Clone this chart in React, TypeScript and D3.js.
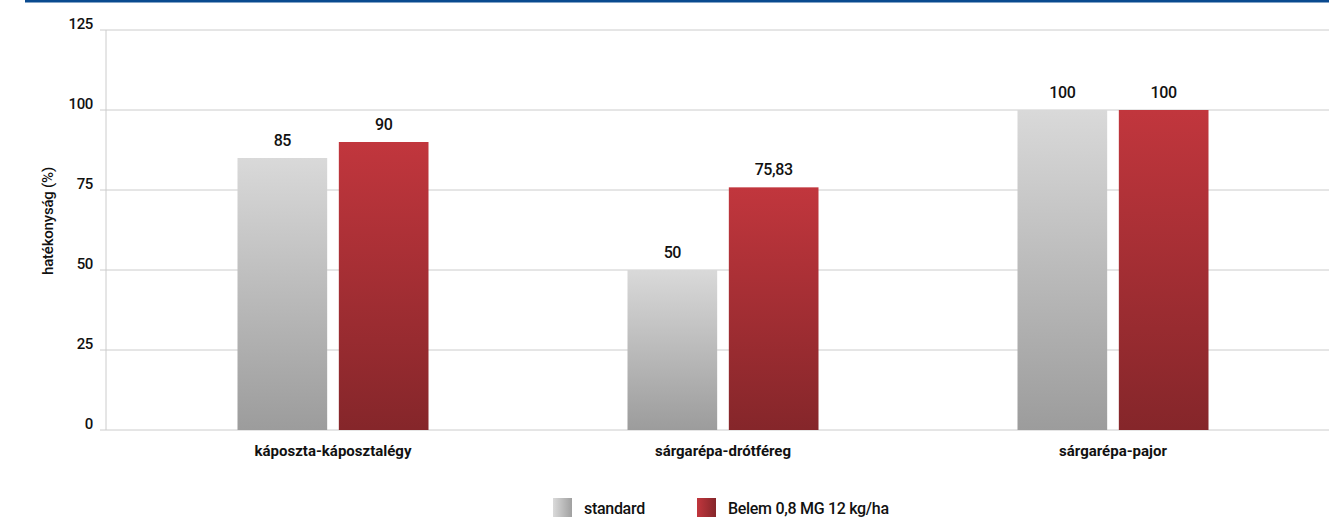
import React from "react";
import * as d3 from "d3";

const categories = ["káposzta-káposztalégy", "sárgarépa-drótféreg", "sárgarépa-pajor"];
const seriesNames = ["standard", "Belem 0,8 MG 12 kg/ha"];
const standardValues = [85, 50, 100];
const belemValues = [90, 75.83, 100];
const valueLabels = [["85", "50", "100"], ["90", "75,83", "100"]];
const yTicks = [0, 25, 50, 75, 100, 125];
const yTitle = "hatékonyság (%)";

const W = 1329;
const H = 518;
const FONT = "Roboto, 'Liberation Sans', sans-serif";

export default function App() {
  const y = d3.scaleLinear().domain([0, 125]).range([430, 30]);
  const x0 = d3.scaleBand<string>().domain(categories).range([138, 1308]);
  const x1 = d3.scaleBand<number>().domain([0, 1]).range([0, 191]).paddingInner(0.115);
  const groupOffset = (x0.bandwidth() - 191) / 2;
  const series = [standardValues, belemValues];
  const fills = ["url(#gStd)", "url(#gRed)"];
  const legendFills = ["url(#lStd)", "url(#lRed)"];
  const legendX = [553, 697];

  return (
    <svg width={W} height={H} style={{ position: "absolute", left: 0, top: 0, background: "#fff" }}>
      <defs>
        <linearGradient id="gStd" x1="0" y1="0" x2="0" y2="1">
          <stop offset="0" stopColor="#d9d9d9" />
          <stop offset="1" stopColor="#9c9c9c" />
        </linearGradient>
        <linearGradient id="gRed" x1="0" y1="0" x2="0" y2="1">
          <stop offset="0" stopColor="#c1363d" />
          <stop offset="1" stopColor="#85262a" />
        </linearGradient>
        <linearGradient id="lStd" x1="0" y1="0" x2="1" y2="0">
          <stop offset="0" stopColor="#dadada" />
          <stop offset="1" stopColor="#a0a0a0" />
        </linearGradient>
        <linearGradient id="lRed" x1="0" y1="0" x2="1" y2="0">
          <stop offset="0" stopColor="#c1363d" />
          <stop offset="1" stopColor="#85262a" />
        </linearGradient>
      </defs>
      <rect x={25} y={0} width={W - 25} height={2.5} fill="#0a4a8f" />
      {yTicks.map((t) => (
        <g key={t}>
          <line x1={100} x2={W} y1={y(t)} y2={y(t)} stroke="#cccccc" strokeWidth={1} />
          <text x={93} y={y(t) - 1} textAnchor="end" fontFamily={FONT} fontSize={15} fontWeight={500} letterSpacing={-0.4} fill="#111">
            {t}
          </text>
        </g>
      ))}
      <line x1={106} x2={106} y1={30} y2={430} stroke="#cccccc" strokeWidth={1} />
      <text
        transform={`translate(53, 221) rotate(-90)`}
        textAnchor="middle"
        fontFamily={FONT}
        fontSize={15}
        fontWeight={500}
        letterSpacing={-0.2}
        fill="#111"
      >
        {yTitle}
      </text>
      {categories.map((c, i) => (
        <g key={c} transform={`translate(${(x0(c) ?? 0) + groupOffset},0)`}>
          {series.map((s, j) => (
            <g key={j}>
              <rect
                x={x1(j)}
                y={y(s[i])}
                width={x1.bandwidth()}
                height={y(0) - y(s[i])}
                fill={fills[j]}
              />
              <text
                x={(x1(j) ?? 0) + x1.bandwidth() / 2}
                y={y(s[i]) - 12}
                textAnchor="middle"
                fontFamily={FONT}
                fontSize={16}
                fontWeight={500}
                letterSpacing={-0.4}
                fill="#111"
              >
                {valueLabels[j][i]}
              </text>
            </g>
          ))}
          <text
            x={95.5}
            y={456}
            textAnchor="middle"
            fontFamily={FONT}
            fontSize={15}
            fontWeight="bold"
            fill="#111"
          >
            {c}
          </text>
        </g>
      ))}
      {seriesNames.map((n, j) => (
        <g key={n}>
          <rect x={legendX[j]} y={498} width={19} height={19} fill={legendFills[j]} />
          <text x={legendX[j] + 31} y={514} fontFamily={FONT} fontSize={16} fontWeight={500} letterSpacing={-0.3} fill="#111">
            {n}
          </text>
        </g>
      ))}
    </svg>
  );
}
